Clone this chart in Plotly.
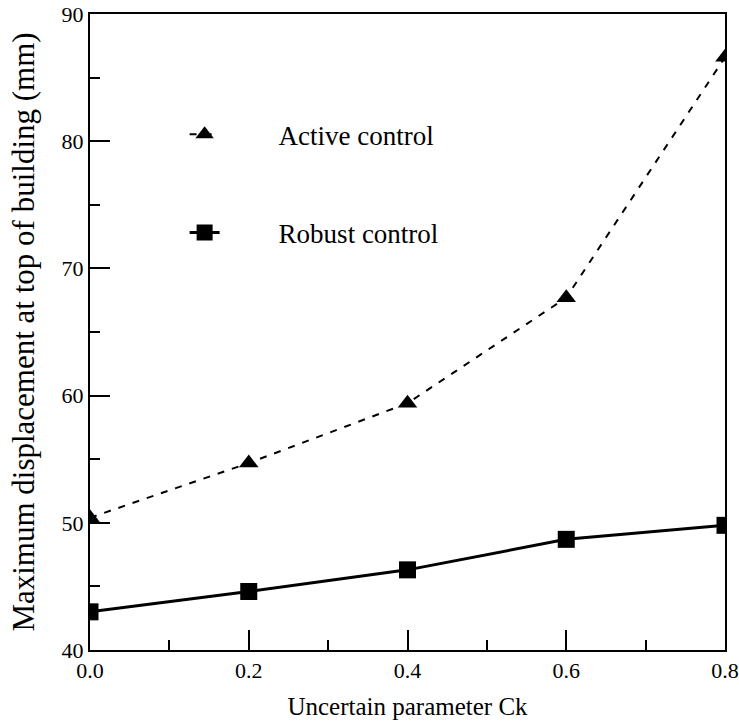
import plotly.graph_objects as go

ck = [0.0, 0.2, 0.4, 0.6, 0.8]
active_control = [50.4, 54.7, 59.4, 67.7, 86.6]
robust_control = [43.0, 44.6, 46.3, 48.7, 49.8]
x_ticks = [0.0, 0.2, 0.4, 0.6, 0.8]
x_tick_labels = ["0.0", "0.2", "0.4", "0.6", "0.8"]
y_ticks = [40, 50, 60, 70, 80, 90]
series_names = ["Active control", "Robust control"]

FONT = "Liberation Serif"
PAD = "\u00a0" * 8

fig = go.Figure()
fig.add_trace(go.Scatter(
    x=ck, y=active_control, name=PAD + series_names[0], mode="lines+markers",
    line=dict(color="black", width=2, dash="7px,8px"),
    marker=dict(symbol="triangle-up", size=17, color="black"),
    legendgroup="a",
))
fig.add_trace(go.Scatter(
    x=ck, y=robust_control, name=PAD + series_names[1], mode="lines+markers",
    line=dict(color="black", width=3),
    marker=dict(symbol="square", size=17, color="black"),
    legendgroup="b",
))

axis_common = dict(
    showgrid=False, zeroline=False, showline=True, linecolor="black", linewidth=2,
    mirror=True, ticks="inside", ticklen=20, tickwidth=2, tickcolor="black",
    tickfont=dict(family=FONT, size=22, color="black"), automargin=False,
)

fig.update_xaxes(
    range=[0, 0.8], tickvals=x_ticks, ticktext=x_tick_labels,
    minor=dict(ticks="inside", ticklen=10, tickwidth=2, tickcolor="black", dtick=0.1, tick0=0),
    title=dict(text="Uncertain parameter Ck", font=dict(family=FONT, size=25, color="black"), standoff=15),
    **axis_common,
)
fig.update_yaxes(
    range=[40, 90], tickvals=y_ticks,
    minor=dict(ticks="inside", ticklen=10, tickwidth=2, tickcolor="black", dtick=5, tick0=40),
    title=dict(text="Maximum displacement at top of building (mm)", font=dict(family=FONT, size=31, color="black"), standoff=18),
    **axis_common,
)

fig.update_layout(
    width=739, height=723,
    margin=dict(l=90, r=14, t=14, b=73),
    paper_bgcolor="white", plot_bgcolor="white",
    font=dict(family=FONT, color="black"),
    legend=dict(
        x=0.149, y=0.733, xanchor="left", yanchor="middle",
        bgcolor="rgba(0,0,0,0)", font=dict(family=FONT, size=27, color="black"),
        tracegroupgap=60, traceorder="grouped",
    ),
)

fig.write_html(
    "out.html",
    config={"displayModeBar": False},
    post_script="document.body.style.margin='0';document.body.style.overflow='hidden';",
)
